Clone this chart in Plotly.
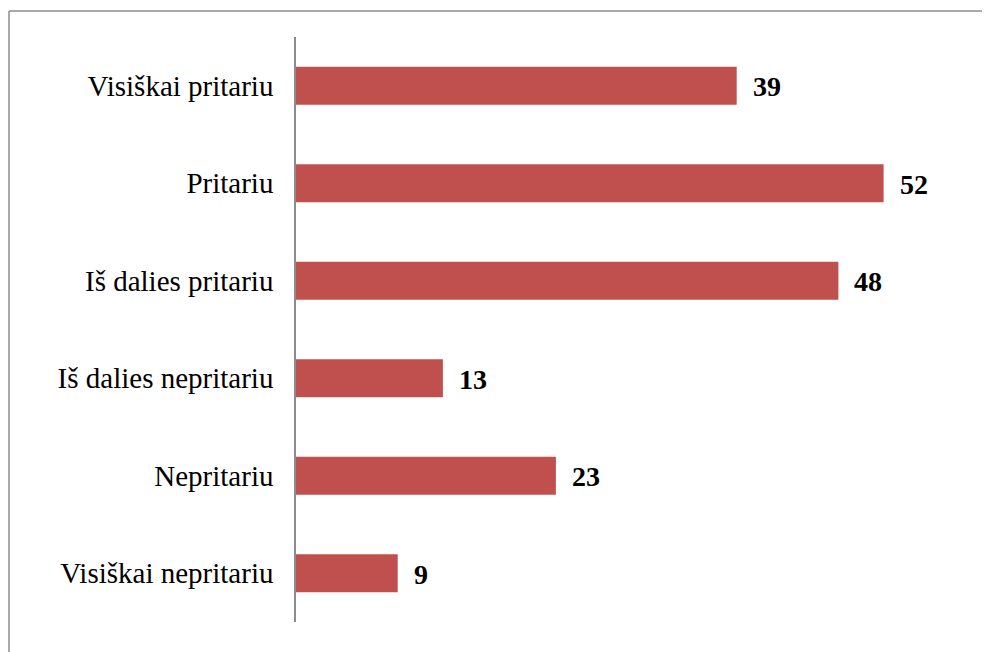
import plotly.graph_objects as go

categories = ["Visiškai pritariu", "Pritariu", "Iš dalies pritariu",
              "Iš dalies nepritariu", "Nepritariu", "Visiškai nepritariu"]
values = [39, 52, 48, 13, 23, 9]

# page body has an 8px margin; figure fills the rest of the window
W, H = 982, 644
L, T = 288, 29
R, B = 16, 30
pw = W - L - R
ph = H - T - B

fig = go.Figure(go.Bar(
    x=values, y=categories, orientation="h",
    marker=dict(color="#C0504D", line=dict(width=0)),
    width=0.39,
    hoverinfo="x+y",
))

for c, v in zip(categories, values):
    fig.add_annotation(x=v, y=c, text=f"<b>{v}</b>", showarrow=False,
                       xanchor="left", xshift=14, yshift=-1,
                       font=dict(family="Liberation Serif", size=28, color="black"))

bx0 = (1 - L) / pw
bx1 = (W + 10 - L) / pw
by0 = -(H + 10 - T - ph) / ph
by1 = 1 + (T - 3) / ph
border = dict(color="#8C8C8C", width=1.5)
fig.add_shape(type="line", xref="paper", yref="paper",
              x0=bx0, x1=bx1, y0=by1, y1=by1, line=border)
fig.add_shape(type="line", xref="paper", yref="paper",
              x0=bx0, x1=bx0, y0=by0, y1=by1, line=border)

fig.update_layout(
    width=W, height=H,
    margin=dict(l=L, r=R, t=T, b=B),
    paper_bgcolor="white", plot_bgcolor="white",
    showlegend=False,
    font=dict(family="Liberation Serif", size=29, color="black"),
    xaxis=dict(range=[0, 60], visible=False, showgrid=False, zeroline=False),
    yaxis=dict(autorange="reversed", showgrid=False, zeroline=False,
               showline=True, linecolor="#8C8C8C", linewidth=1.5,
               ticks="", ticklabelstandoff=15,
               tickfont=dict(family="Liberation Serif", size=29, color="black")),
)

fig.write_html("out.html",
               post_script="document.documentElement.style.overflow='hidden';"
                           "document.body.style.overflow='hidden';")
